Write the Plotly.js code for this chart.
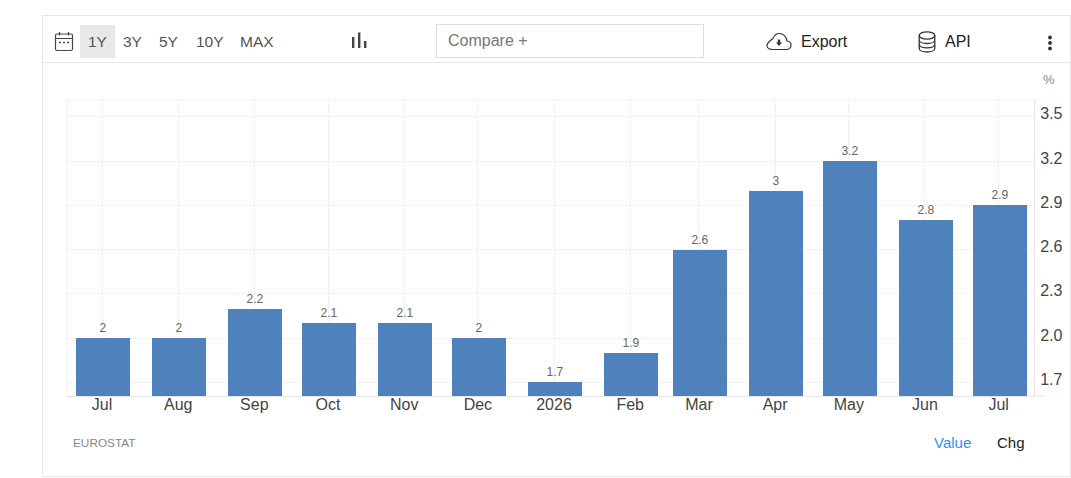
<!DOCTYPE html>
<html>
<head>
<meta charset="utf-8">
<script src="https://cdn.plot.ly/plotly-3.0.1.min.js"></script>
<style>
html,body{margin:0;padding:0;background:#fff;width:1071px;height:478px;overflow:hidden;font-family:Arial,"Liberation Sans",sans-serif}
#chart{position:absolute;left:0;top:0;width:1071px;height:478px}
.abs{position:absolute}
.t{position:absolute;line-height:20px;height:20px;white-space:nowrap}
.r{font-size:15.5px;color:#555;top:32px}
</style>
</head>
<body>
<div id="chart"></div>
<div class="abs" style="left:42px;top:15px;width:1027px;height:460px;border:1px solid #e6e6e6;pointer-events:none"></div>
<div class="abs" style="left:43px;top:62px;width:1027px;height:1px;background:#e6e6e6"></div>
<div class="abs" style="left:80px;top:25px;width:35px;height:33px;background:#e8e8e8"></div>
<svg class="abs" style="left:54px;top:31px" width="20" height="21" viewBox="0 0 20 21" fill="none" stroke="#444" stroke-width="1.2">
  <rect x="1.5" y="3" width="17" height="16.5" rx="1.5"/><path d="M1.5 7.5H18.5M5.5 1V4.5M14.5 1V4.5"/>
  <path d="M5 11.5H7M9 11.5H11M13 11.5H15" stroke-width="1.6"/>
</svg>
<div class="t r" style="left:88px">1Y</div>
<div class="t r" style="left:123px">3Y</div>
<div class="t r" style="left:159px">5Y</div>
<div class="t r" style="left:196px">10Y</div>
<div class="t r" style="left:240px">MAX</div>
<svg class="abs" style="left:351px;top:32px" width="16" height="17" viewBox="0 0 16 17" fill="#444">
  <rect x="1" y="5" width="2.4" height="11"/><rect x="7" y="0.5" width="2.4" height="15.5"/><rect x="13" y="9" width="2.4" height="7"/>
</svg>
<div class="abs" style="left:436px;top:24px;width:266px;height:32px;border:1px solid #ddd"></div>
<div class="t" style="left:448px;top:31px;font-size:16px;color:#777">Compare +</div>
<svg class="abs" style="left:766px;top:32px" width="26" height="19" viewBox="0 0 26 19" fill="none" stroke="#333" stroke-width="1.2">
  <path d="M6 17.5H20.5C23 17.5 25 15.6 25 13.2C25 10.9 23.2 9.2 21 9C20.4 4.5 17.2 1.5 13.5 1.5C10.6 1.5 8.2 3.4 7 6.4C4 8.5 1 11.4 1 13.6C1 15.8 3.2 17.5 6 17.5Z"/>
  <path d="M10 10.5L13 14L16 10.5H14.2V7.5H11.8V10.5Z" fill="#333" stroke="none"/>
</svg>
<div class="t" style="left:801px;top:32px;font-size:16px;color:#222">Export</div>
<svg class="abs" style="left:918px;top:31px" width="18" height="22" viewBox="0 0 18 22" fill="none" stroke="#333" stroke-width="1.3">
  <ellipse cx="9" cy="4.5" rx="7.8" ry="3.6"/><path d="M1.2 4.5V17.5C1.2 19.5 4.6 21 9 21C13.4 21 16.8 19.5 16.8 17.5V4.5M1.2 9C1.2 11 4.6 12.5 9 12.5C13.4 12.5 16.8 11 16.8 9M1.2 13.3C1.2 15.3 4.6 16.8 9 16.8C13.4 16.8 16.8 15.3 16.8 13.3"/>
</svg>
<div class="t" style="left:945px;top:32px;font-size:16px;color:#222">API</div>
<svg class="abs" style="left:1047px;top:35px" width="6" height="16" viewBox="0 0 6 16" fill="#333">
  <circle cx="3" cy="2.5" r="1.9"/><circle cx="3" cy="8" r="1.9"/><circle cx="3" cy="13.5" r="1.9"/>
</svg>
<script>
var dates = ["2025-07-01","2025-08-01","2025-09-01","2025-10-01","2025-11-01","2025-12-01","2026-01-01","2026-02-01","2026-03-01","2026-04-01","2026-05-01","2026-06-01","2026-07-01"];
var monthLabels = ["Jul","Aug","Sep","Oct","Nov","Dec","2026","Feb","Mar","Apr","May","Jun","Jul"];
var values = [2,2,2.2,2.1,2.1,2,1.7,1.9,2.6,3,3.2,2.8,2.9];
var yTicks = [1.7,2.0,2.3,2.6,2.9,3.2,3.5];
var yTickLabels = ["1.7","2.0","2.3","2.6","2.9","3.2","3.5"];
var barColor = "#4f81bd";
var gridColor = "#e6e6e6";
var DOT = "1px,1px";
var DAY = 86400000;

var trace = {
  type:"bar", x:dates, y:values, width:22*DAY, offset:-10.6*DAY,
  marker:{color:barColor, line:{width:0}},
  text:values.map(String), textposition:"outside", cliponaxis:false,
  textfont:{family:"Arial, Liberation Sans, sans-serif", size:12, color:"#666"},
  hoverinfo:"x+y"
};
var layout = {
  width:1071, height:478,
  margin:{l:67,r:37,t:100,b:82,pad:0},
  paper_bgcolor:"rgba(0,0,0,0)", plot_bgcolor:"rgba(0,0,0,0)",
  showlegend:false, bargap:0,
  font:{family:"Arial, Liberation Sans, sans-serif", color:"#444"},
  xaxis:{type:"date", range:["2025-06-16 17:36","2026-07-15 09:36"],
    tickvals:dates, ticktext:monthLabels, tickangle:0,
    tickfont:{size:16,color:"#444"}, ticks:"outside", ticklen:0, tickcolor:"rgba(0,0,0,0)", ticklabelstandoff:-6,
    showgrid:true, gridcolor:gridColor, griddash:DOT, gridwidth:1,
    showline:true, linecolor:gridColor, linewidth:1, zeroline:false, automargin:false},
  yaxis:{range:[1.607,3.614], side:"right", tickvals:yTicks, ticktext:yTickLabels,
    tickfont:{size:16,color:"#444"}, ticks:"", ticklabelshift:-3, ticklabelstandoff:2,
    showgrid:true, gridcolor:gridColor, griddash:DOT, gridwidth:1,
    showline:true, linecolor:gridColor, linewidth:1, zeroline:false, automargin:false},
  shapes:[
    {type:"line",xref:"paper",yref:"paper",x0:0,x1:0,y0:0,y1:1,line:{color:gridColor,width:1,dash:DOT}},
    {type:"line",xref:"paper",yref:"paper",x0:0,x1:1.0115,y0:1,y1:1,line:{color:gridColor,width:1,dash:DOT}},
    {type:"line",xref:"paper",yref:"paper",x0:1,x1:1.0115,y0:0,y1:0,line:{color:gridColor,width:1}}
  ],
  annotations:[
    {xref:"paper",yref:"paper",x:1.016,y:1.07,xanchor:"center",yanchor:"middle",showarrow:false,text:"%",font:{size:13,color:"#888"}},
    {xref:"paper",yref:"paper",x:0.0045,y:-0.158,xanchor:"left",yanchor:"middle",showarrow:false,text:"EUROSTAT",font:{size:11.8,color:"#888"}},
    {xref:"paper",yref:"paper",x:0.8945,y:-0.158,xanchor:"left",yanchor:"middle",showarrow:false,text:"Value",font:{size:15,color:"#2f8fff"}},
    {xref:"paper",yref:"paper",x:0.96,y:-0.158,xanchor:"left",yanchor:"middle",showarrow:false,text:"Chg",font:{size:15,color:"#222"}}
  ]
};
Plotly.newPlot("chart",[trace],layout,{displayModeBar:false,responsive:false});
</script>
</body>
</html>
